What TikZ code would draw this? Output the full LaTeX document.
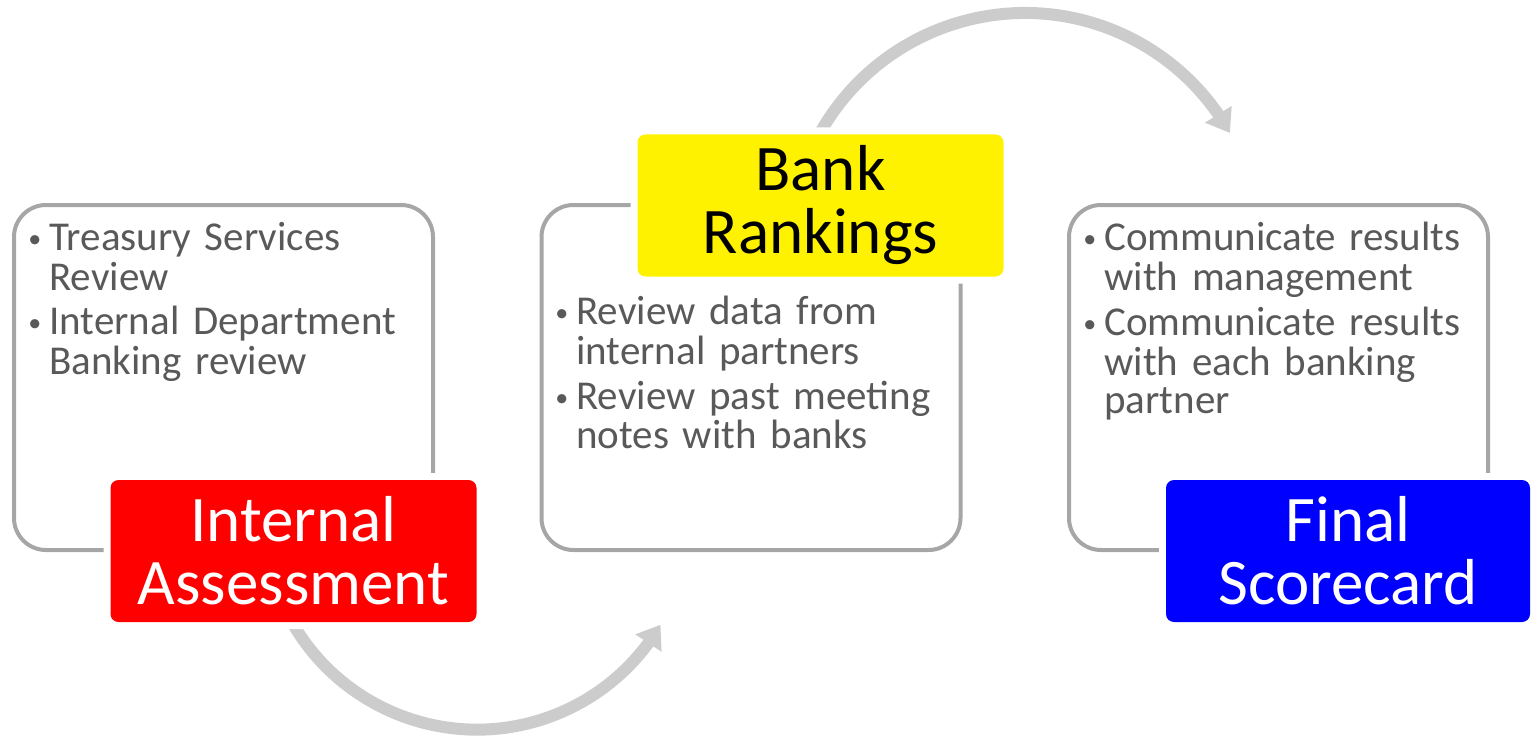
\documentclass[tikz,border=0pt]{standalone}
\usepackage{fontspec}
\setmainfont{Carlito}
\usetikzlibrary{arrows.meta,bending}

\definecolor{bodygray}{HTML}{595959}
\definecolor{framegray}{HTML}{A6A6A6}
\definecolor{arcgray}{HTML}{CCCCCC}

% one bullet, its lines kept flush after the dot
\newcommand{\bitem}[1]{\par\noindent
  \makebox[10.5pt][l]{\raisebox{1.5pt}{\fontsize{13}{13}\selectfont\textbullet}}%
  \begin{tabular}[t]{@{}l@{}}#1\end{tabular}\par\vspace{1.5pt}}

\begin{document}
\begin{tikzpicture}[
  x=0.5pt, y=-0.5pt,
  frame/.style={draw=framegray, line width=2pt, rounded corners=16pt,
    minimum width=209.5pt, minimum height=172.5pt, inner sep=0pt},
  list/.style={anchor=north west, inner sep=0pt, text=bodygray,
    text width=200pt, font=\fontsize{20.5}{19}\selectfont},
  stage/.style={rounded corners=4pt, minimum width=183pt, minimum height=71pt,
    inner sep=0pt, align=center, font=\fontsize{32.5}{31.5}\selectfont,
    preaction={draw=white, line width=7pt}},
  flow/.style={draw=arcgray, line width=6pt,
    -{Triangle[length=11pt, width=15pt, flex]}}
]
  \useasboundingbox (0,0) rectangle (1531,738);

  % curved arrows between the stages
  \coordinate (low) at (477,516.6);
  \coordinate (high) at (1025,248);
  \draw[flow] (low) ++(155:213) arc[start angle=155, end angle=30.5, radius=213];
  \draw[flow] (high) ++(205:235) arc[start angle=205, end angle=330.7, radius=235];

  % frames
  \node[frame] (b1) at (223.5,377.5) {};
  \node[frame] (b2) at (751,377.5) {};
  \node[frame] (b3) at (1278.5,377.5) {};

  % lists
  \node[list] (t1) at (28,212) {%
    \bitem{Treasury Services\\Review}
    \bitem{Internal Department\\Banking review}};
  \node[list] (t2) at (555,286) {%
    \bitem{Review data from\\internal partners}
    \bitem{Review past meeting\\notes with banks}};
  \node[list] (t3) at (1083,212) {%
    \bitem{Communicate results\\with management}
    \bitem{Communicate results\\with each banking\\partner}};

  % stage labels
  \node[stage, fill=red, text=white] (s1) at (293.5,551) {Internal\\Assessment};
  \node[stage, fill=yellow, text=black] (s2) at (820.5,205.5) {Bank\\Rankings};
  \node[stage, fill=blue, text=white, minimum width=182pt] (s3) at (1348,551) {Final\\Scorecard};
\end{tikzpicture}
\end{document}
